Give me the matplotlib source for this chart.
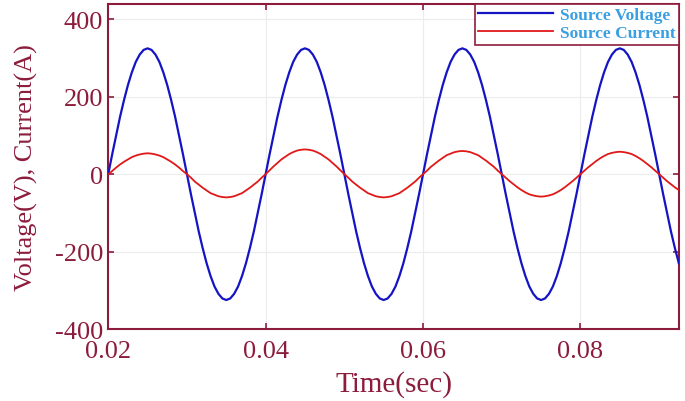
"""
Source voltage and current waveforms
"""

import numpy as np
import matplotlib
matplotlib.use("Agg")
import matplotlib.pyplot as plt

# time samples (sec), 0.5 ms step, 0.020 .. 0.0925
time_s = np.round(np.arange(40, 186) * 0.0005, 4)

# source voltage (V) (one half cycle per row)
voltage = [
    0, 51, 100, 148, 191, 230, 263, 290, 309, 321, 325, 321, 309, 290, 263, 230, 191, 148, 100, 51,
    0, -51, -100, -148, -191, -230, -263, -290, -309, -321, -325, -321, -309, -290, -263, -230, -191, -148, -100, -51,
    0, 51, 100, 148, 191, 230, 263, 290, 309, 321, 325, 321, 309, 290, 263, 230, 191, 148, 100, 51,
    0, -51, -100, -148, -191, -230, -263, -290, -309, -321, -325, -321, -309, -290, -263, -230, -191, -148, -100, -51,
    0, 51, 100, 148, 191, 230, 263, 290, 309, 321, 325, 321, 309, 290, 263, 230, 191, 148, 100, 51,
    0, -51, -100, -148, -191, -230, -263, -290, -309, -321, -325, -321, -309, -290, -263, -230, -191, -148, -100, -51,
    0, 51, 100, 148, 191, 230, 263, 290, 309, 321, 325, 321, 309, 290, 263, 230, 191, 148, 100, 51,
    0, -51, -100, -148, -191, -230,
]

# source current (A) (one half cycle per row)
current = [
    0, 8, 17, 25, 32, 38, 44, 48, 51, 53, 54, 53, 51, 48, 44, 38, 32, 25, 17, 8,
    0, -9, -19, -27, -35, -42, -49, -53, -57, -59, -60, -59, -57, -53, -49, -42, -35, -27, -19, -9,
    0, 10, 20, 29, 38, 45, 52, 57, 61, 63, 64, 63, 61, 57, 52, 45, 38, 29, 20, 10,
    0, -9, -19, -27, -35, -42, -49, -53, -57, -59, -60, -59, -57, -53, -49, -42, -35, -27, -19, -9,
    0, 9, 19, 27, 35, 42, 49, 53, 57, 59, 60, 59, 57, 53, 49, 42, 35, 27, 19, 9,
    0, -9, -18, -26, -34, -41, -47, -52, -55, -57, -58, -57, -55, -52, -47, -41, -34, -26, -18, -9,
    0, 9, 18, 26, 34, 41, 47, 52, 55, 57, 58, 57, 55, 52, 47, 41, 34, 26, 18, 9,
    0, -9, -18, -26, -34, -41,
]

xticks = [0.02, 0.04, 0.06, 0.08]
xticklabels = ["0.02", "0.04", "0.06", "0.08"]
yticks = [-400, -200, 0, 200, 400]

maroon = "#8c1c3c"

plt.rcParams['font.family'] = ['Liberation Serif', 'DejaVu Serif']
plt.rcParams['axes.unicode_minus'] = False

figure = plt.figure(figsize=(6.85, 4.02), dpi=100)
ax = figure.add_axes([0.158, 0.179, 0.833, 0.809])

ax.plot(time_s, voltage, color="#1414c4", linewidth=1.6, label="Source Voltage", zorder=3)
ax.plot(time_s, current, color="#e01818", linewidth=1.3, label="Source Current", zorder=3)

ax.set_xlim(0.02, 0.0925)
ax.set_ylim(-400, 440)
ax.set_xticks(xticks)
ax.set_xticklabels(xticklabels)
ax.set_yticks(yticks)

ax.grid(True, color="#ececec", linewidth=0.8, zorder=0)

for sp in ax.spines.values():
    sp.set_color(maroon)
    sp.set_linewidth(1.5)

ax.tick_params(axis='both', which='both', direction='in', length=4, width=1.2,
               colors=maroon, labelsize=19, top=True, right=True)
ax.tick_params(axis='x', pad=8)

ax.set_xlabel("Time(sec)", fontsize=21, color=maroon, labelpad=6)
ax.set_ylabel("Voltage(V), Current(A)", fontsize=19, color=maroon, labelpad=12)

leg = ax.legend(loc='upper right', borderaxespad=0, fancybox=False, framealpha=1,
                edgecolor=maroon, handlelength=4.3, handletextpad=0.4,
                borderpad=0.2, labelspacing=0.1,
                prop={'family': 'Liberation Serif', 'weight': 'bold', 'size': 12.5})
leg.get_frame().set_linewidth(1.2)
for txt in leg.get_texts():
    txt.set_color("#3a9fe0")

figure.savefig("out.png", dpi=100)
